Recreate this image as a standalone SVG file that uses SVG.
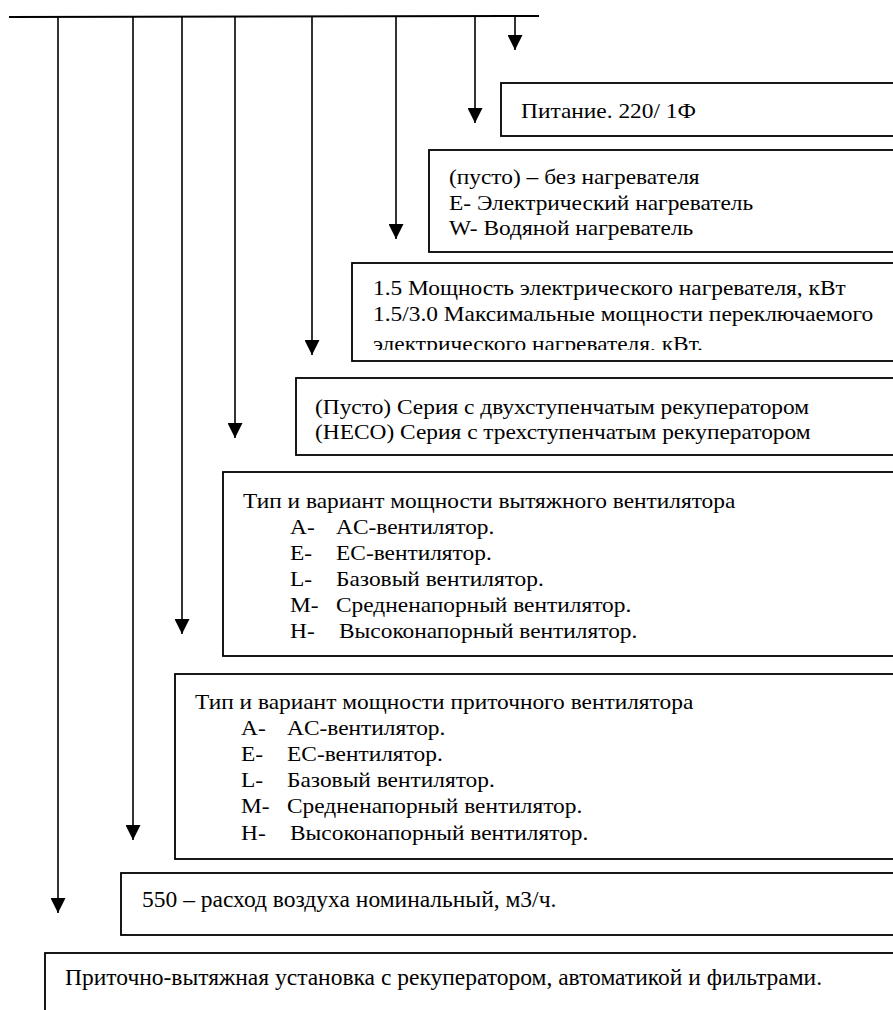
<svg xmlns="http://www.w3.org/2000/svg" width="893" height="1010" viewBox="0 0 893 1010">
<style>
.box{fill:#fff;stroke:#000;stroke-width:1.8}
.t{font-family:"Liberation Serif","Times New Roman",serif;font-size:20px;fill:#000}
.tb{font-family:"Liberation Serif","Times New Roman",serif;font-size:23.5px;fill:#000}
.c{stroke:#000;stroke-width:1.6;fill:none}
</style>
<defs>
<marker id="ah" markerUnits="userSpaceOnUse" markerWidth="15" markerHeight="16" refX="7.5" refY="15" orient="0" viewBox="0 0 15 16">
<path d="M0,0 L15,0 L7.5,15 Z" fill="#000"/>
</marker>
<clipPath id="clip3"><rect x="352" y="263" width="560" height="87"/></clipPath>
</defs>
<g id="connectors">
<line class="c" x1="9" y1="17" x2="539" y2="16" style="stroke-width:2"/>
<line class="c" x1="515" y1="16" x2="515" y2="50" marker-end="url(#ah)"/>
<line class="c" x1="475" y1="16" x2="475" y2="123" marker-end="url(#ah)"/>
<line class="c" x1="396" y1="16" x2="396" y2="239" marker-end="url(#ah)"/>
<line class="c" x1="312" y1="16" x2="312" y2="355" marker-end="url(#ah)"/>
<line class="c" x1="235" y1="16" x2="235" y2="438" marker-end="url(#ah)"/>
<line class="c" x1="182" y1="16" x2="182" y2="634" marker-end="url(#ah)"/>
<line class="c" x1="133" y1="17" x2="133" y2="840" marker-end="url(#ah)"/>
<line class="c" x1="58" y1="17" x2="58" y2="913" marker-end="url(#ah)"/>
</g>
<g id="node-power">
<rect class="box" x="501" y="83" width="420" height="53"/>
<text class="t" transform="translate(521,118) scale(1.17,1)">Питание. 220/ 1Ф</text>
</g>
<g id="node-heater">
<rect class="box" x="429" y="150" width="490" height="102"/>
<text class="t" transform="translate(449,184) scale(1.17,1)">(пусто) – без нагревателя</text>
<text class="t" transform="translate(449,210) scale(1.17,1)">E- Электрический нагреватель</text>
<text class="t" transform="translate(449,235) scale(1.17,1)">W- Водяной нагреватель</text>
</g>
<g id="node-heater-power">
<rect class="box" x="352" y="263" width="560" height="98"/>
<g clip-path="url(#clip3)">
<text class="t" transform="translate(373,295) scale(1.17,1)">1.5 Мощность электрического нагревателя, кВт</text>
<text class="t" transform="translate(373,321) scale(1.17,1)">1.5/3.0 Максимальные мощности переключаемого</text>
<text class="t" transform="translate(373,351) scale(1.17,1)">электрического нагревателя, кВт.</text>
</g>
</g>
<g id="node-series">
<rect class="box" x="296" y="378" width="620" height="77"/>
<text class="t" transform="translate(315,414) scale(1.17,1)">(Пусто) Серия с двухступенчатым рекуператором</text>
<text class="t" transform="translate(315,439) scale(1.17,1)">(HECO) Серия с трехступенчатым рекуператором</text>
</g>
<g id="node-exhaust-fan">
<rect class="box" x="223" y="472" width="690" height="184"/>
<text class="t" transform="translate(243,508) scale(1.17,1)">Тип и вариант мощности вытяжного вентилятора</text>
<text class="t" transform="translate(290,534) scale(1.17,1)">A-</text>
<text class="t" transform="translate(336,534) scale(1.17,1)">AC-вентилятор.</text>
<text class="t" transform="translate(290,560) scale(1.17,1)">E-</text>
<text class="t" transform="translate(336,560) scale(1.17,1)">EC-вентилятор.</text>
<text class="t" transform="translate(290,586) scale(1.17,1)">L-</text>
<text class="t" transform="translate(336,586) scale(1.17,1)">Базовый вентилятор.</text>
<text class="t" transform="translate(290,612) scale(1.17,1)">M-</text>
<text class="t" transform="translate(336,612) scale(1.17,1)">Средненапорный вентилятор.</text>
<text class="t" transform="translate(290,638) scale(1.17,1)">H-</text>
<text class="t" transform="translate(339,638) scale(1.17,1)">Высоконапорный вентилятор.</text>
</g>
<g id="node-supply-fan">
<rect class="box" x="175" y="674" width="740" height="185"/>
<text class="t" transform="translate(195,709) scale(1.17,1)">Тип и вариант мощности приточного вентилятора</text>
<text class="t" transform="translate(241,735) scale(1.17,1)">A-</text>
<text class="t" transform="translate(287,735) scale(1.17,1)">AC-вентилятор.</text>
<text class="t" transform="translate(241,761) scale(1.17,1)">E-</text>
<text class="t" transform="translate(287,761) scale(1.17,1)">EC-вентилятор.</text>
<text class="t" transform="translate(241,787) scale(1.17,1)">L-</text>
<text class="t" transform="translate(287,787) scale(1.17,1)">Базовый вентилятор.</text>
<text class="t" transform="translate(241,813) scale(1.17,1)">M-</text>
<text class="t" transform="translate(287,813) scale(1.17,1)">Средненапорный вентилятор.</text>
<text class="t" transform="translate(241,840) scale(1.17,1)">H-</text>
<text class="t" transform="translate(290,840) scale(1.17,1)">Высоконапорный вентилятор.</text>
</g>
<g id="node-airflow">
<rect class="box" x="121" y="873" width="790" height="62"/>
<text class="tb" x="142" y="907">550 – расход воздуха номинальный, м3/ч.</text>
</g>
<g id="node-unit">
<rect class="box" x="45" y="953" width="870" height="80"/>
<text class="tb" x="65" y="985">Приточно-вытяжная установка с рекуператором, автоматикой и фильтрами.</text>
</g>
</svg>
